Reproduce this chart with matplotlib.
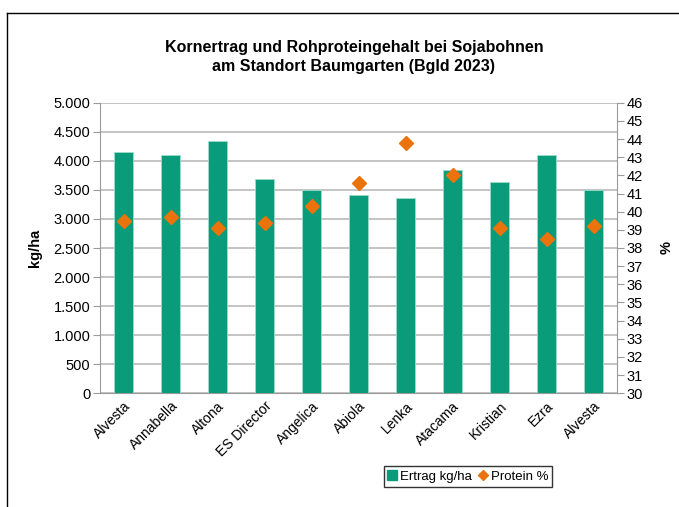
import matplotlib
matplotlib.use("Agg")
import matplotlib.pyplot as plt
from matplotlib.lines import Line2D
from matplotlib.patches import Patch
from matplotlib.ticker import FuncFormatter, MultipleLocator
import numpy as np

plt.rcParams["font.family"] = ["Liberation Sans", "DejaVu Sans"]

sorten = ["Alvesta", "Annabella", "Altona", "ES Director", "Angelica", "Abiola",
          "Lenka", "Atacama", "Kristian", "Ezra", "Alvesta"]
ertrag = [4150, 4095, 4345, 3685, 3500, 3410, 3355, 3850, 3630, 4095, 3500]
protein = [39.5, 39.7, 39.1, 39.4, 40.3, 41.6, 43.8, 42.0, 39.1, 38.5, 39.2]

bar_color = "#0a9b7a"
dia_color = "#ea730b"

fig = plt.figure(figsize=(6.79, 5.07), dpi=100)
ax = fig.add_axes([100 / 679, 1 - 393.3 / 507, (617 - 100) / 679, (393.3 - 102.7) / 507])
ax2 = ax.twinx()

x = np.arange(len(sorten))
ax.bar(x, ertrag, width=0.42, color=bar_color, edgecolor="#9fdcc9", linewidth=0.6, zorder=3)
ax2.plot(x, protein, linestyle="none", marker="D", markersize=7, color=dia_color, zorder=4)

ax.set_xlim(-0.5, len(sorten) - 0.5)
ax.set_ylim(0, 5000)
ax.yaxis.set_major_locator(MultipleLocator(500))
ax.yaxis.set_major_formatter(FuncFormatter(lambda v, p: f"{int(v):,}".replace(",", ".")))
ax2.set_ylim(30, 46)
ax2.yaxis.set_major_locator(MultipleLocator(1))

ax.grid(axis="y", color="#c4c4c4", linewidth=1.4, zorder=0)
ax.set_axisbelow(True)

for a in (ax, ax2):
    a.spines["top"].set_visible(False)
ax.spines["right"].set_visible(False)
ax2.spines["left"].set_visible(False)
ax2.spines["bottom"].set_visible(False)
ax.spines["left"].set_color("#9a9a9a")
ax.spines["bottom"].set_color("#9a9a9a")
ax2.spines["right"].set_color("#9a9a9a")

ax.tick_params(axis="y", labelsize=10.5, color="#9a9a9a", length=5, pad=2)
ax2.tick_params(axis="y", labelsize=10.5, color="#9a9a9a", length=5, pad=2)
ax.tick_params(axis="x", length=0, labelsize=10, pad=4)
ax.set_xticks(x)
ax.set_xticklabels(sorten, rotation=45, ha="right", rotation_mode="anchor")

ax.set_ylabel("kg/ha", fontsize=10.5, fontweight="bold", labelpad=8)
ax2.set_ylabel("%", fontsize=10.5, fontweight="bold", labelpad=12)

fig.text(354 / 679, 1 - 57 / 507,
         "Kornertrag und Rohproteingehalt bei Sojabohnen\nam Standort Baumgarten (Bgld 2023)",
         ha="center", va="center", fontsize=11.5, fontweight="bold", linespacing=1.35)

handles = [Patch(facecolor=bar_color, edgecolor=bar_color, label="Ertrag kg/ha"),
           Line2D([], [], linestyle="none", marker="D", markersize=5, color=dia_color, label="Protein %")]
leg = fig.legend(handles=handles, loc="center", bbox_to_anchor=(468 / 679, 1 - 476.5 / 507),
                 ncol=2, fontsize=9.5, frameon=True, fancybox=False, edgecolor="black",
                 handlelength=0.7, handletextpad=0.25, columnspacing=0.5, borderpad=0.3,
                 handleheight=0.8)
leg.get_frame().set_linewidth(1.0)

# chart border (partly cut off in the original)
fig.add_artist(Line2D([7 / 679, 7 / 679], [0, 1 - 13 / 507], color="black", linewidth=1.0,
                      transform=fig.transFigure))
fig.add_artist(Line2D([7 / 679, 1], [1 - 13 / 507, 1 - 13 / 507], color="black", linewidth=1.0,
                      transform=fig.transFigure))

fig.savefig("out.png", dpi=100)
